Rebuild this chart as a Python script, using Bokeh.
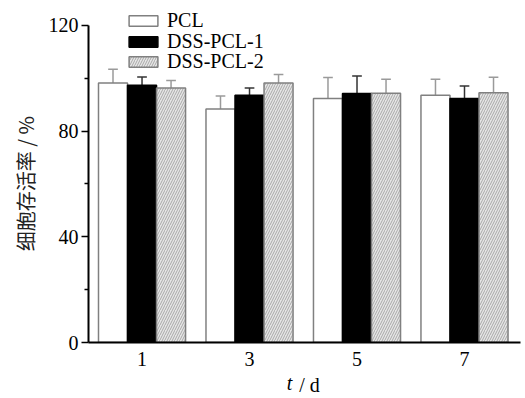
from bokeh.plotting import figure
from bokeh.models import Range1d, FixedTicker, ColumnDataSource, Legend, LegendItem, LinearAxis
from bokeh.embed import file_html
from bokeh.resources import INLINE

days = ["1", "3", "5", "7"]
series = ["PCL", "DSS-PCL-1", "DSS-PCL-2"]
pcl = [98.2, 88.4, 92.3, 93.6]
pcl_err = [5.2, 4.9, 8.0, 6.0]
dss1 = [97.4, 93.6, 94.2, 92.3]
dss1_err = [3.1, 2.7, 6.7, 4.8]
dss2 = [96.3, 98.2, 94.3, 94.5]
dss2_err = [2.9, 3.2, 5.3, 5.9]
y_ticks = [0, 40, 80, 120]
y_minor = [20, 60, 100]

SERIF = "Liberation Serif"
NB = "\u00a0"
FS = "20px"

p = figure(width=525, height=398, output_backend="svg", toolbar_location=None,
           x_range=Range1d(-0.498, 3.521), y_range=Range1d(0, 129.43),
           min_border_left=88, min_border_top=0, min_border_bottom=55, min_border_right=5)
p.outline_line_color = None
p.xgrid.grid_line_color = None
p.ygrid.grid_line_color = None

idx = list(range(len(days)))
W = 0.27
specs = [
    (pcl, pcl_err, -W, dict(fill_color="white", line_color="#808080"), "#9a9a9a"),
    (dss1, dss1_err, 0.0, dict(fill_color="black", line_color="black"), "#333333"),
    (dss2, dss2_err, W, dict(fill_color="#e6e6e6", line_color="#808080",
                             hatch_pattern="/", hatch_color="#a8a8a8",
                             hatch_scale=5, hatch_weight=1), "#9a9a9a"),
]
renderers = []
for vals, errs, off, style, ecol in specs:
    xs = [i + off for i in idx]
    tops = [v + e for v, e in zip(vals, errs)]
    src = ColumnDataSource(dict(x=xs, top=vals, etop=tops,
                                c0=[x - 0.045 for x in xs], c1=[x + 0.045 for x in xs]))
    p.segment(x0="x", y0="top", x1="x", y1="etop", source=src, line_color=ecol, line_width=1.5)
    p.segment(x0="c0", y0="etop", x1="c1", y1="etop", source=src, line_color=ecol, line_width=1.5)
    r = p.vbar(x="x", top="top", bottom=0, width=W, source=src, line_width=1.5, **style)
    renderers.append(r)

# one legend per entry so that the row pitch can follow the reference
legend_bottoms = [310, 289.5, 269.5]
for s, r, yb in zip(series, renderers, legend_bottoms):
    lg = Legend(items=[LegendItem(label=s, renderers=[r])],
                location=(37, yb), padding=0, margin=0, spacing=0,
                glyph_width=36, glyph_height=13, label_height=20, label_standoff=6,
                label_text_font=SERIF, label_text_font_size=FS, label_text_color="black",
                border_line_color=None, background_fill_alpha=0)
    p.add_layout(lg, "center")

xa = p.xaxis[0]
xa.ticker = FixedTicker(ticks=idx)
xa.major_label_overrides = {i: d for i, d in zip(idx, days)}
xa.major_tick_out = 0
xa.major_tick_in = 0
xa.minor_tick_out = 0
xa.minor_tick_in = 0
xa.axis_line_width = 2
xa.axis_line_color = "black"
xa.major_label_text_font = SERIF
xa.major_label_text_font_size = FS
xa.major_label_text_color = "black"
xa.major_label_standoff = 9
xa.axis_label = "t" + NB * 6
xa.axis_label_text_font = SERIF
xa.axis_label_text_font_style = "italic"
xa.axis_label_text_font_size = FS
xa.axis_label_text_color = "black"
xa.axis_label_standoff = 3

xb = LinearAxis(ticker=FixedTicker(ticks=[]), axis_line_color=None,
                major_tick_line_color=None, minor_tick_line_color=None,
                major_label_text_font_size="0px", major_label_standoff=0,
                axis_label=NB * 2 + "/ d", axis_label_text_font=SERIF,
                axis_label_text_font_style="normal", axis_label_text_font_size=FS,
                axis_label_text_color="black", axis_label_standoff=-23)
p.add_layout(xb, "below")

ya = p.yaxis[0]
ya.ticker = FixedTicker(ticks=y_ticks, minor_ticks=y_minor)
ya.bounds = (0, 120)
ya.major_tick_out = 7
ya.major_tick_in = 0
ya.minor_tick_out = 4
ya.minor_tick_in = 0
ya.major_tick_line_width = 1.5
ya.minor_tick_line_width = 1.5
ya.axis_line_width = 2
ya.axis_line_color = "black"
ya.major_label_text_font = SERIF
ya.major_label_text_font_size = FS
ya.major_label_text_color = "black"
ya.major_label_standoff = 3
ya.axis_label = "细胞存活率 / %" + "\u3000" + NB
ya.axis_label_text_font = "Noto Sans CJK SC"
ya.axis_label_text_font_style = "normal"
ya.axis_label_text_font_size = "20px"
ya.axis_label_text_color = "#222222"
ya.axis_label_standoff = 6

open("out.html", "w").write(file_html(p, INLINE))
